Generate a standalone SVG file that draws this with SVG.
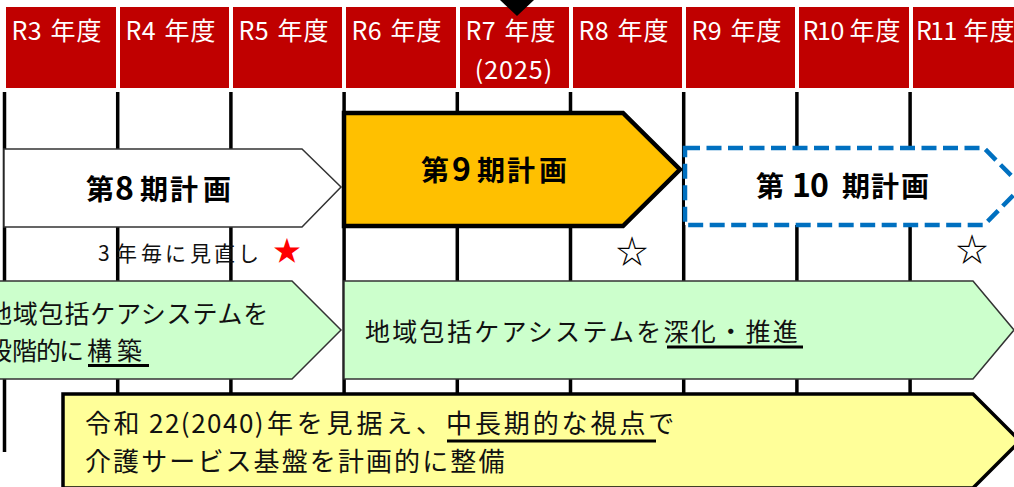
<svg xmlns="http://www.w3.org/2000/svg" width="1014" height="487" viewBox="0 0 1014 487">
<style>
.hdr{fill:#C00000}
.ht{fill:#fff;font-family:"Noto Sans CJK JP","Liberation Sans",sans-serif;font-size:25px}
.grid line{stroke:#000;stroke-width:3.5}
.title{font-family:"Noto Sans CJK JP","Liberation Sans",sans-serif;font-size:28px;font-weight:700;fill:#000}
.dg{font-size:32px}
.body{font-family:"Noto Sans CJK JP","Liberation Sans",sans-serif;fill:#111}
.ul{stroke:#000;stroke-width:3}
.green{fill:#CCFFCC;stroke:#333;stroke-width:1.5}
</style>
<rect width="1014" height="487" fill="#fff"/>
<g id="grid" class="grid">
<line x1="4.5" y1="92" x2="4.5" y2="452"/>
<line x1="117.7" y1="92" x2="117.7" y2="487"/>
<line x1="230.9" y1="92" x2="230.9" y2="487"/>
<line x1="344.1" y1="92" x2="344.1" y2="487"/>
<line x1="457.3" y1="92" x2="457.3" y2="487"/>
<line x1="570.5" y1="92" x2="570.5" y2="487"/>
<line x1="683.7" y1="92" x2="683.7" y2="487"/>
<line x1="796.9" y1="92" x2="796.9" y2="487"/>
<line x1="910.1" y1="92" x2="910.1" y2="487"/>
</g>
<g id="header">
<g id="h-r3"><rect class="hdr" x="6" y="7" width="110" height="81"/><text class="ht" y="40" x="11.6 27.8 40 50.5 76.5">R3 年度</text></g>
<g id="h-r4"><rect class="hdr" x="120" y="7" width="109" height="81"/><text class="ht" y="40" x="125.6 141.8 154 164.5 190.5">R4 年度</text></g>
<g id="h-r5"><rect class="hdr" x="233" y="7" width="109" height="81"/><text class="ht" y="40" x="238.6 254.8 267 277.5 303.5">R5 年度</text></g>
<g id="h-r6"><rect class="hdr" x="346" y="7" width="110" height="81"/><text class="ht" y="40" x="351.6 367.8 380 390.5 416.5">R6 年度</text></g>
<g id="h-r7"><rect class="hdr" x="460" y="7" width="109" height="81"/><text class="ht" y="40" x="465.6 481.8 494 504.5 530.5">R7 年度</text><text class="ht" x="514" y="79" text-anchor="middle" letter-spacing="1">(2025)</text></g>
<g id="h-r8"><rect class="hdr" x="573" y="7" width="109" height="81"/><text class="ht" y="40" x="578.6 594.8 607 617.5 643.5">R8 年度</text></g>
<g id="h-r9"><rect class="hdr" x="686" y="7" width="109" height="81"/><text class="ht" y="40" x="691.6 707.8 720 730.5 756.5">R9 年度</text></g>
<g id="h-r10"><rect class="hdr" x="799" y="7" width="110" height="81"/><text class="ht" y="40" x="802.6 817 830.5 842 849.5 875.5">R10 年度</text></g>
<g id="h-r11"><rect class="hdr" x="913" y="7" width="110" height="81"/><text class="ht" y="40" x="916 930 943.5 956 963.5 989.5">R11 年度</text></g>
<polygon points="500,0 534,0 517,16" fill="#000"/>
</g>
<g id="plan8">
<polygon points="4,149 302,149 341,187 302,227 4,227" fill="#fff" stroke="#333" stroke-width="1.5"/>
<text class="title" y="200"><tspan x="86">第</tspan><tspan class="dg" x="115">8</tspan><tspan x="140">期</tspan><tspan x="170">計</tspan><tspan x="203">画</tspan></text>
</g>
<g id="plan9">
<polygon points="344,113 623,113 680,169.5 623,226 344,226" fill="#FFC000" stroke="#000" stroke-width="4.5"/>
<text class="title" y="181"><tspan x="421">第</tspan><tspan class="dg" x="452">9</tspan><tspan x="477">期</tspan><tspan x="507">計</tspan><tspan x="539">画</tspan></text>
</g>
<g id="plan10">
<polygon points="685,148 984,148 1022,186.5 984,225 685,225" fill="#fff" stroke="#0070C0" stroke-width="4.5" stroke-dasharray="15 6.5"/>
<text class="title" y="197"><tspan x="756">第 </tspan><tspan class="dg" x="792">1</tspan><tspan class="dg" x="810">0</tspan><tspan x="830"> </tspan><tspan x="842">期</tspan><tspan x="871">計</tspan><tspan x="901">画</tspan></text>
</g>
<g id="review">
<text class="body" font-size="21" y="261" x="98 116 141 165 190 214 238">3年毎に見直し</text>
<text x="287" y="261" font-size="28" fill="#FF0000" text-anchor="middle" font-family="'Noto Sans CJK JP','DejaVu Sans',sans-serif">★</text>
<text x="632" y="263" font-size="32" fill="#000" text-anchor="middle" font-family="'Noto Sans CJK JP','DejaVu Sans',sans-serif">☆</text>
<text x="972" y="261" font-size="32" fill="#000" text-anchor="middle" font-family="'Noto Sans CJK JP','DejaVu Sans',sans-serif">☆</text>
</g>
<g id="care-build">
<polygon class="green" points="-10,281 292,281 341,330 292,379 -10,379"/>
<text class="body" font-size="25" x="-13" y="323" letter-spacing="0.8">地域包括ケアシステムを</text>
<text class="body" font-size="25" y="360" x="-13 12 36 59 87 117">段階的に構築</text>
<line class="ul" x1="88" y1="365.5" x2="149" y2="365.5" stroke-width="2.5"/>
</g>
<g id="care-deepen">
<polygon class="green" points="344,281 973,281 1014,330 973,379 344,379"/>
<text class="body" font-size="25" x="365" y="341" letter-spacing="2.3">地域包括ケアシステムを深化・推進</text>
<line class="ul" x1="667" y1="347" x2="803" y2="347"/>
</g>
<g id="service">
<polygon points="63,394 973,394 1020,441 973,488 63,488" fill="#FFFF99" stroke="#000" stroke-width="3.5"/>
<text class="body" font-size="26" y="433"><tspan x="85" letter-spacing="2.5">令和 </tspan><tspan x="149" letter-spacing="1.5">22(2040)</tspan><tspan x="267" letter-spacing="3.8">年を見据え、</tspan><tspan x="446" letter-spacing="2.9">中長期的な視点で</tspan></text>
<text class="body" font-size="26" x="85" y="471" letter-spacing="2.1">介護サービス基盤を計画的に整備</text>
<line class="ul" x1="447" y1="441" x2="656" y2="441"/>
</g>
</svg>
